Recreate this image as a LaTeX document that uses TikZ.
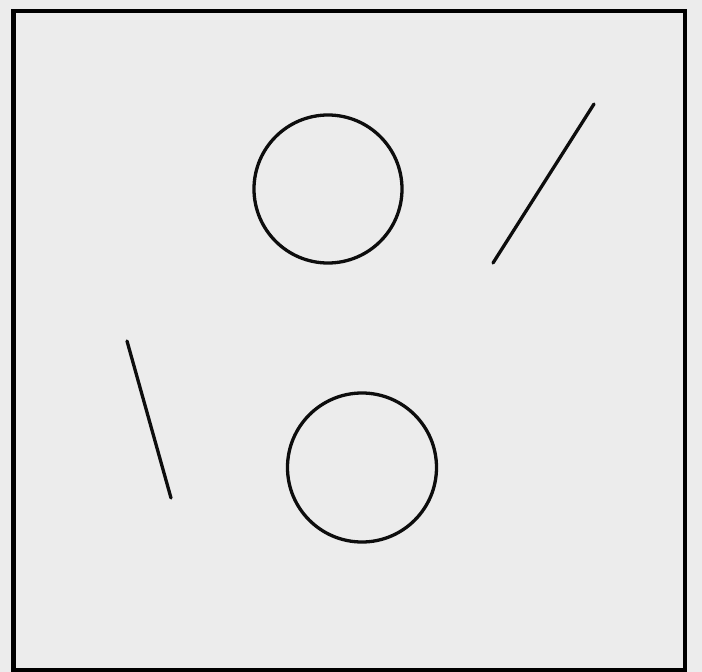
\documentclass[tikz,border=0pt]{standalone}
\begin{document}
\begin{tikzpicture}[x=1pt,y=-1pt,
  ink/.style={draw=black!95, line width=3.3pt, line cap=round},
  frame/.style={draw=black, line width=4.2pt}]
\definecolor{paper}{RGB}{236,236,236}
\fill[paper] (0,0) rectangle (702,672);
\useasboundingbox (0,0) rectangle (702,672);
\draw[frame] (13.5,672) -- (13.5,11) -- (685,11) -- (685,672);
\draw[frame] (13.5,670) -- (685,670);
\coordinate (c1) at (328,189);
\coordinate (c2) at (362,467.5);
\draw[ink] (c1) circle[radius=74];
\draw[ink] (c2) circle[radius=74.5];
\coordinate (a1) at (493,263);
\coordinate (a2) at (594,104);
\coordinate (b1) at (127,341);
\coordinate (b2) at (171,498);
\draw[ink] (a1) -- (a2);
\draw[ink] (b1) -- (b2);
\end{tikzpicture}
\end{document}
